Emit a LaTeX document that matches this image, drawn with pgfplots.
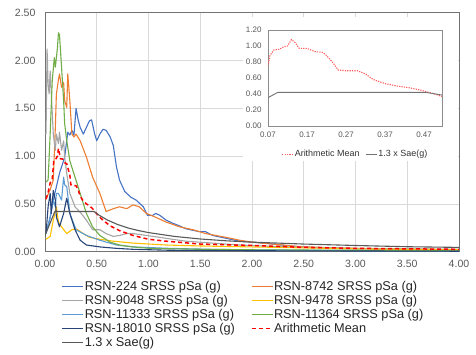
\documentclass[border=0pt]{standalone}
\usepackage{fontspec}
\setmainfont{Liberation Sans}
\usepackage{pgfplots}
\pgfplotsset{compat=1.18}
\definecolor{cA}{HTML}{4472C4}
\definecolor{cB}{HTML}{ED7D31}
\definecolor{cC}{HTML}{A5A5A5}
\definecolor{cD}{HTML}{FFC000}
\definecolor{cE}{HTML}{5B9BD5}
\definecolor{cF}{HTML}{70AD47}
\definecolor{cG}{HTML}{264478}
\definecolor{cMean}{HTML}{FF0000}
\definecolor{cSae}{HTML}{595959}
\definecolor{tickgray}{HTML}{595959}
\definecolor{gridgray}{HTML}{D9D9D9}
\begin{document}
\begin{tikzpicture}
\begin{axis}[at={(0bp,0bp)}, anchor=south west, scale only axis, width=414bp, height=239bp,
  xmin=0, xmax=4, ymin=0, ymax=2.5,
  xtick={0,0.5,1,1.5,2,2.5,3,3.5,4}, ytick={0,0.5,1,1.5,2,2.5},
  grid=major, major grid style={draw=gridgray, line width=0.6bp},
  major tick length=0pt,
  axis line style={draw=black!55, line width=0.6bp},
  tick label style={font=\fontsize{10.6}{12}\selectfont, text=tickgray},
  xticklabel style={yshift=-5bp},
  yticklabel style={xshift=-6bp},
  /pgf/number format/.cd, fixed, fixed zerofill, precision=2, assume math mode=true, /pgfplots/.cd,
  legend columns=2, legend cell align=left,
  legend style={draw=none, fill=none, at={(0.040,-0.117)}, anchor=north west,
    font=\fontsize{12.8}{14}\selectfont, text=black!85, inner sep=0pt, row sep=0pt,
    nodes={inner xsep=1bp, inner ysep=0pt, text height=10.5bp, text depth=3.5bp},
    /tikz/every even column/.append style={column sep=15bp}},
  legend image code/.code={\draw[#1, line width=1bp] (0bp,0bp)--(21bp,0bp);},
  every axis plot/.append style={line width=1.1bp, line join=round},
]
\addplot[cA] coordinates {(0.01,0.20)(0.02,0.23)(0.05,0.36)(0.08,0.54)(0.11,0.68)(0.14,0.82)(0.17,0.92)(0.19,0.99)(0.22,1.25)(0.24,1.22)(0.26,1.27)(0.28,1.22)(0.30,1.50)(0.32,1.38)(0.34,1.30)(0.37,1.23)(0.40,1.30)(0.43,1.37)(0.45,1.38)(0.48,1.23)(0.50,1.16)(0.53,1.23)(0.56,1.28)(0.59,1.27)(0.63,1.20)(0.66,1.11)(0.69,0.89)(0.72,0.75)(0.77,0.63)(0.83,0.57)(0.88,0.54)(0.95,0.47)(0.99,0.38)(1.04,0.38)(1.07,0.40)(1.11,0.38)(1.17,0.33)(1.23,0.30)(1.30,0.27)(1.36,0.24)(1.49,0.21)(1.55,0.21)(1.62,0.17)(1.75,0.14)(1.88,0.11)(2.0,0.10)(2.2,0.08)(2.45,0.05)(2.8,0.035)(3.2,0.028)(3.6,0.022)(4.0,0.02)};
\addlegendentry{RSN-224 SRSS pSa (g)}
\addplot[cB] coordinates {(0.01,0.55)(0.03,0.60)(0.05,0.65)(0.08,0.75)(0.10,1.30)(0.11,1.65)(0.13,1.80)(0.14,1.86)(0.16,1.72)(0.18,1.77)(0.19,1.58)(0.21,1.51)(0.22,1.86)(0.24,1.58)(0.26,1.23)(0.28,1.20)(0.30,1.23)(0.34,1.16)(0.40,0.99)(0.46,0.78)(0.53,0.61)(0.59,0.42)(0.66,0.45)(0.72,0.47)(0.79,0.45)(0.85,0.49)(0.91,0.47)(0.98,0.40)(1.07,0.36)(1.17,0.31)(1.30,0.26)(1.43,0.23)(1.55,0.19)(1.75,0.15)(1.88,0.12)(2.0,0.10)(2.2,0.08)(2.45,0.055)(2.8,0.04)(3.2,0.03)(3.6,0.025)(4.0,0.02)};
\addlegendentry{RSN-8742 SRSS pSa (g)}
\addplot[cC] coordinates {(0.01,1.23)(0.02,2.12)(0.03,1.75)(0.04,1.65)(0.05,1.89)(0.06,1.68)(0.08,1.23)(0.10,1.06)(0.11,1.23)(0.13,1.13)(0.14,1.25)(0.16,1.06)(0.18,1.16)(0.19,0.99)(0.21,0.82)(0.24,0.61)(0.29,0.47)(0.35,0.40)(0.40,0.33)(0.46,0.23)(0.53,0.23)(0.59,0.19)(0.66,0.16)(0.72,0.17)(0.79,0.19)(0.85,0.19)(0.98,0.17)(1.11,0.15)(1.23,0.13)(1.36,0.11)(1.62,0.09)(1.88,0.07)(2.2,0.055)(2.6,0.045)(3.0,0.035)(3.5,0.03)(4.0,0.025)};
\addlegendentry{RSN-9048 SRSS pSa (g)}
\addplot[cD] coordinates {(0.01,0.13)(0.05,0.16)(0.08,0.33)(0.11,0.47)(0.13,0.31)(0.16,0.26)(0.21,0.19)(0.26,0.23)(0.30,0.24)(0.37,0.19)(0.43,0.15)(0.53,0.13)(0.66,0.11)(0.85,0.09)(1.17,0.07)(1.5,0.06)(2.0,0.05)(2.5,0.04)(3.0,0.03)(3.5,0.025)(4.0,0.02)};
\addlegendentry{RSN-9478 SRSS pSa (g)}
\addplot[cE] coordinates {(0.01,0.19)(0.05,0.36)(0.08,0.54)(0.10,0.47)(0.11,0.61)(0.13,0.61)(0.16,0.54)(0.18,0.78)(0.19,0.70)(0.21,0.68)(0.23,0.50)(0.24,0.40)(0.30,0.23)(0.40,0.17)(0.53,0.12)(0.69,0.07)(0.85,0.05)(1.2,0.035)(1.6,0.025)(2.0,0.02)(3.0,0.012)(4.0,0.01)};
\addlegendentry{RSN-11333 SRSS pSa (g)}
\addplot[cF] coordinates {(0.01,0.73)(0.03,0.75)(0.05,1.23)(0.07,1.79)(0.09,2.03)(0.10,1.93)(0.12,2.13)(0.13,2.29)(0.14,2.27)(0.16,1.93)(0.18,1.58)(0.19,1.34)(0.21,1.16)(0.24,0.95)(0.29,0.78)(0.34,0.61)(0.40,0.40)(0.46,0.26)(0.53,0.17)(0.63,0.10)(0.72,0.07)(0.85,0.05)(1.01,0.035)(1.5,0.025)(2.0,0.02)(3.0,0.015)(4.0,0.01)};
\addlegendentry{RSN-11364 SRSS pSa (g)}
\addplot[cG] coordinates {(0.01,0.19)(0.03,0.47)(0.05,0.61)(0.06,0.40)(0.08,0.64)(0.10,0.54)(0.11,0.36)(0.14,0.26)(0.18,0.40)(0.21,0.56)(0.24,0.40)(0.29,0.23)(0.34,0.12)(0.40,0.07)(0.53,0.05)(0.69,0.035)(0.85,0.025)(1.2,0.015)(2.0,0.01)(4.0,0.005)};
\addlegendentry{RSN-18010 SRSS pSa (g)}
\addplot[cMean, line width=1.5bp, dash pattern=on 4bp off 3bp] coordinates {(0.01,0.55)(0.03,0.62)(0.05,0.72)(0.07,0.76)(0.085,0.95)(0.10,0.96)(0.12,1.00)(0.13,1.08)(0.15,0.97)(0.17,0.97)(0.19,0.93)(0.21,0.92)(0.22,0.88)(0.24,0.80)(0.25,0.70)(0.27,0.69)(0.30,0.69)(0.32,0.65)(0.34,0.58)(0.37,0.53)(0.40,0.50)(0.43,0.48)(0.46,0.45)(0.49,0.41)(0.52,0.37)(0.56,0.33)(0.63,0.27)(0.72,0.22)(0.85,0.17)(1.0,0.13)(1.17,0.11)(1.5,0.08)(2.0,0.065)(2.5,0.045)(3.0,0.035)(3.5,0.03)(4.0,0.025)};
\addlegendentry{Arithmetic Mean}
\addplot[cSae] coordinates {(0,0.17)(0.095,0.42)(0.475,0.42)(0.52,0.384)(0.6,0.333)(0.7,0.285)(0.8,0.249)(0.9,0.222)(1.0,0.2)(1.25,0.16)(1.5,0.133)(1.75,0.114)(2.0,0.10)(2.5,0.08)(3.0,0.065)(3.5,0.052)(4.0,0.045)};
\addlegendentry{1.3 x Sae(g)}
\end{axis}
\fill[white] (198bp,90.7bp) rectangle (413bp,234.7bp);
\begin{axis}[at={(223bp,125.7bp)}, anchor=south west,
  scale only axis, width=174bp, height=96bp,
  xmin=0.07, xmax=0.516, ymin=0, ymax=1.2,
  xtick={0.07,0.17,0.27,0.37,0.47}, ytick={0,0.2,0.4,0.6,0.8,1.0,1.2},
  major tick length=0pt,
  axis line style={draw=black!45, line width=0.6bp},
  tick label style={font=\fontsize{8}{9}\selectfont, text=tickgray},
  xticklabel style={yshift=-2bp},
  yticklabel style={xshift=-3bp},
  /pgf/number format/.cd, fixed, fixed zerofill, precision=2, assume math mode=true, /pgfplots/.cd,
  legend columns=2,
  legend style={draw=none, fill=none, at={(0.5,-0.24)}, anchor=north,
    font=\fontsize{9}{10}\selectfont, text=black!80, inner sep=0pt,
    nodes={inner xsep=1bp, inner ysep=0pt, text height=7.5bp, text depth=2.5bp},
    /tikz/every even column/.append style={column sep=5bp}},
  legend image code/.code={\draw[#1] (0bp,0bp)--(11bp,0bp);},
]
\addplot[color={rgb,255:red,255;green,90;blue,90}, line width=1.1bp, dash pattern=on 1.2bp off 1.2bp] coordinates {(0.07,0.75)(0.075,0.88)(0.085,0.95)(0.10,0.96)(0.11,0.99)(0.12,1.00)(0.13,1.08)(0.14,1.04)(0.15,0.97)(0.17,0.97)(0.19,0.93)(0.21,0.92)(0.22,0.88)(0.235,0.80)(0.25,0.70)(0.27,0.69)(0.30,0.69)(0.32,0.65)(0.34,0.58)(0.37,0.53)(0.40,0.50)(0.43,0.48)(0.46,0.45)(0.49,0.41)(0.516,0.37)};
\addlegendentry{Arithmetic Mean}
\addplot[color=black!55, line width=0.9bp] coordinates {(0.07,0.354)(0.095,0.42)(0.475,0.42)(0.516,0.387)};
\addlegendentry{1.3 x Sae(g)}
\end{axis}
\pgfresetboundingbox
\path[use as bounding box] (-45bp,-103.3bp) rectangle (431bp,251.7bp);
\end{tikzpicture}
\end{document}
